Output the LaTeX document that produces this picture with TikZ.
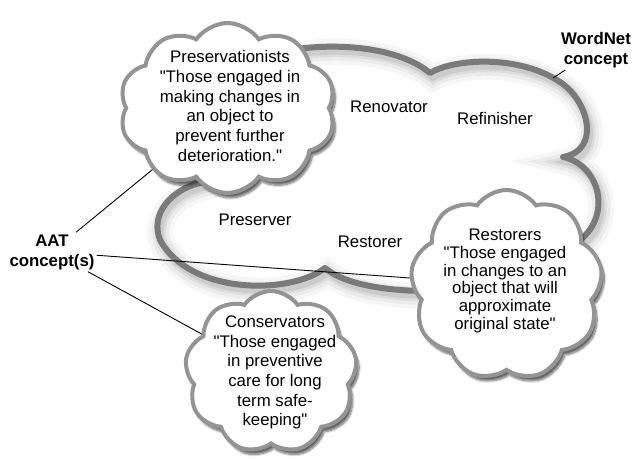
\documentclass[tikz,border=0pt]{standalone}
\usepackage{fontspec}
\setmainfont{Liberation Sans}[Ligatures=TeXOff]
\usetikzlibrary{shapes.symbols,shadows.blur}
\definecolor{wnstroke}{RGB}{122,122,122}
\definecolor{cloudstroke}{RGB}{148,148,148}
\newcommand\wnpath{(290,50) .. controls (340,42) and (400,48) .. (430,73) .. controls (455,58) and (520,55) .. (560,82) .. controls (588,100) and (602,150) .. (563,157) .. controls (600,165) and (612,215) .. (580,240) .. controls (560,280) and (480,292) .. (440,291) .. controls (390,292) and (345,285) .. (325,268) .. controls (290,295) and (190,295) .. (160,240) .. controls (150,215) and (170,190) .. (200,183) .. controls (250,170) and (280,100) .. (290,50)}
\tikzset{
  cloudS/.style={cloud, cloud puffs=10, cloud puff arc=110, cloud ignores aspect,
    draw=cloudstroke, line width=4pt, fill=white,
    blur shadow={shadow xshift=3pt, shadow yshift=-5pt, shadow blur steps=10, shadow opacity=60}},
  txt/.style={align=center, inner sep=0pt, font=\fontsize{16.8}{19.7}\selectfont},
  boldtxt/.style={align=center, inner sep=2pt, font=\fontsize{16.8}{20}\selectfont\bfseries},
  conn/.style={black, line width=0.9pt}
}
\begin{document}
\begin{tikzpicture}[x=1pt,y=-1pt]
\useasboundingbox (0,0) rectangle (632,458);
% WordNet concept cloud
\foreach \w/\o in {26/0.035,18/0.045,11/0.06,6/0.08}
  \draw[black, opacity=\o, line width=\w pt, shift={(3,5)}] \wnpath;
\draw[wnstroke, line width=6pt, line join=round] \wnpath;
\node[txt] (renov) at (389,107) {Renovator};
\node[txt] (refin) at (495,118) {Refinisher};
\node[txt] (preserver) at (255,220) {Preserver};
\node[txt] (restorer) at (370,242) {Restorer};
\node[boldtxt] (wn) at (596,50) {WordNet\\concept};
\node[boldtxt] (aat) at (52,252) {AAT\\concept(s)};
% cloud centres
\coordinate (presC) at (227.5,108);
\coordinate (restC) at (506.5,285);
\coordinate (consC) at (271,372);
\coordinate (wnpt) at (553,78);
% connectors
\draw[conn] (wnpt) -- (wn);
\draw[conn] (aat) -- (presC);
\draw[conn] (aat) -- (restC);
\draw[conn] (aat) -- (consC);
% AAT clouds
\node[cloudS, minimum width=216pt, minimum height=170pt] (pres) at (presC) {};
\node[cloudS, cloud puffs=9, minimum width=192pt, minimum height=190pt] (rest) at (restC) {};
\node[cloudS, cloud puffs=9, minimum width=172pt, minimum height=162pt] (cons) at (consC) {};
\node[txt] (presT) at (230,106) {Preservationists\\"Those engaged in\\making changes in\\an object to\\prevent further\\deterioration."};
\node[txt, font=\fontsize{16.8}{17.8}\selectfont] (restT) at (505,281) {Restorers\\"Those engaged\\in changes to an\\object that will\\approximate\\original state"};
\node[txt] (consT) at (275,372.5) {Conservators\\"Those engaged\\in preventive\\care for long\\term safe-\\keeping"};
\end{tikzpicture}
\end{document}
